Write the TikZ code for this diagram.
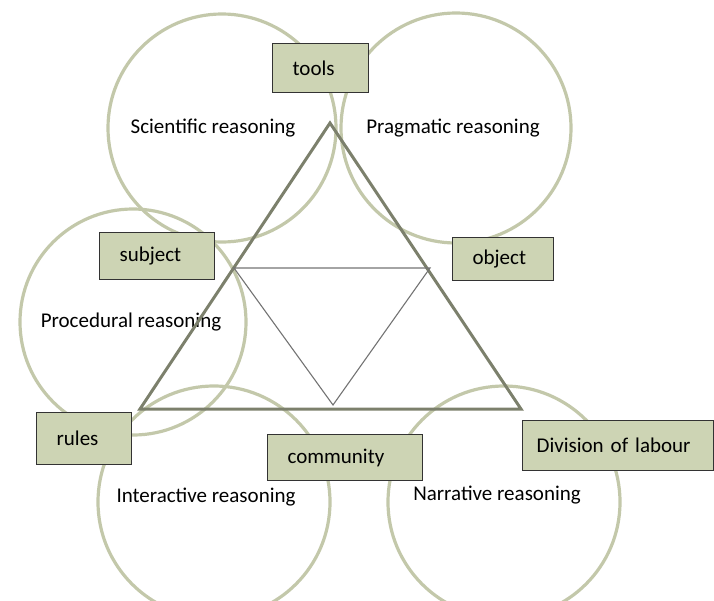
\documentclass[tikz,border=0pt]{standalone}
\usepackage{fontspec}
\setmainfont{Carlito}
\usetikzlibrary{positioning}

\definecolor{ringgreen}{HTML}{C3C8AA}
\definecolor{boxgreen}{HTML}{CDD4B4}
\definecolor{edgegray}{HTML}{7C806C}

\begin{document}
\begin{tikzpicture}[x=1pt,y=-1pt,font=\fontsize{21}{24}\selectfont,
					reasoning/.style={circle,draw=ringgreen,line width=3.2pt,minimum size=#1,inner sep=0pt},
					element/.style={draw=black!80,line width=1.2pt,fill=boxgreen,anchor=north west,
						inner xsep=20pt,inner ysep=0pt,align=left,text width=#1}]
	\clip (0,0) rectangle (714,600);
	% reasoning circles
	\node[reasoning=228pt,label={[shift={(-9,0)}]center:Scientific reasoning}] (scientific) at (222,128) {};
	\node[reasoning=230pt,label={[shift={(-3,0)}]center:Pragmatic reasoning}] (pragmatic) at (456,128) {};
	\node[reasoning=226pt,label={[shift={(-2,0)}]center:Procedural reasoning}] (procedural) at (133,322) {};
	\node[reasoning=232pt,label={[shift={(-8,-5)}]center:Interactive reasoning}] (interactive) at (214,502) {};
	\node[reasoning=232pt,label={[shift={(-7,-7)}]center:Narrative reasoning}] (narrative) at (504,502) {};
	% activity triangle
	\coordinate (apex) at (330,123);
	\coordinate (left) at (140,409);
	\coordinate (right) at (521,409);
	\coordinate (midleft) at (234,268);
	\coordinate (midright) at (430,268);
	\coordinate (midbottom) at (333,405);
	\draw[edgegray,line width=3pt,line join=miter] (apex) -- (right) -- (left) -- cycle;
	\draw[black!55,line width=1.1pt] (midleft) -- (midright) -- (midbottom) -- cycle;
	% elements
	\node[element=56pt,minimum height=49pt] (tools) at (272,43) {tools};
	\node[element=75pt,minimum height=47pt] (subject) at (99,232) {subject};
	\node[element=61pt,minimum height=43pt] (object) at (452,237) {object};
	\node[element=55pt,minimum height=52pt] (rules) at (36,412) {rules};
	\node[element=115pt,minimum height=46pt] (community) at (267,434) {community};
	\node[element=163pt,inner xsep=14pt,minimum height=50pt] (division) at (522,420) {Division of labour};
\end{tikzpicture}
\end{document}
